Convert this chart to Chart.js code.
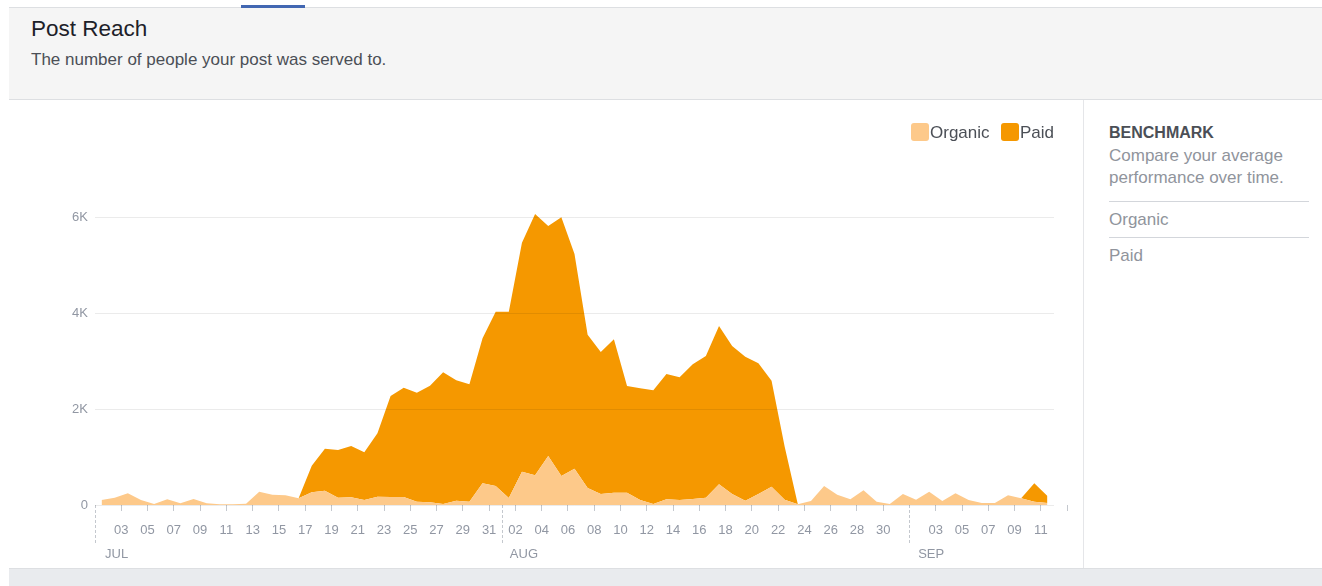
<!DOCTYPE html>
<html lang="en">
<head>
  <meta charset="UTF-8" />
  <title>Post Reach</title>
  <style>
    body {
      margin: 0;
      width: 1322px;
      height: 586px;
      overflow: hidden;
      background: #fff;
      font-family: Helvetica, Arial, "Liberation Sans", sans-serif;
      position: relative;
    }
    .topline { position: absolute; left: 9px; right: 0; top: 7px; height: 1px; background: #dddfe2; }
    .tab { position: absolute; left: 241px; top: 5px; width: 64px; height: 3px; background: #4267b2; }
    .header {
      position: absolute; left: 9px; right: 0; top: 8px; height: 91px;
      background: #f5f5f5; border-bottom: 1px solid #dddfe2;
    }
    .header h1 {
      position: absolute; left: 22px; top: 6px; margin: 0;
      font-size: 22.5px; line-height: 30px; font-weight: normal; color: #1d2129;
    }
    .header p {
      position: absolute; left: 22px; top: 41px; margin: 0;
      font-size: 17px; line-height: 22px; color: #4b4f56;
    }
    .chart-box { position: absolute; left: 9px; top: 100px; width: 1074px; height: 468px; }
    .legend-item {
      position: absolute; top: 123px; height: 18px; line-height: 19px;
      font-size: 17px; color: #4b4f56; white-space: nowrap;
    }
    .legend-item span {
      display: inline-block; width: 18px; height: 18px; border-radius: 3px;
      vertical-align: top; margin-right: 1px;
    }
    .divider { position: absolute; left: 1083px; top: 100px; width: 1px; height: 468px; background: #e5e6e9; }
    .bottom { position: absolute; left: 9px; right: 0; top: 568px; bottom: 0; background: #e9ebee; border-top: 1px solid #dddfe2; }
    .bench { position: absolute; left: 1109px; top: 122px; width: 200px; }
    .bench h4 { margin: 0; font-size: 16px; line-height: 22px; font-weight: bold; color: #4b4f56; }
    .bench .desc { margin: 1px 0 0; font-size: 17px; line-height: 22px; color: #90949c; }
    .bench .row {
      border-top: 1px solid #d3d6db; font-size: 17px; line-height: 35px; height: 35px; color: #90949c;
    }
    .bench .first { margin-top: 12px; }
  </style>
</head>
<body>

<div class="topline"></div>
<div class="tab"></div>
<div class="header">
  <h1>Post Reach</h1>
  <p>The number of people your post was served to.</p>
</div>

<div class="chart-box">
  <canvas id="reachChart"></canvas>
</div>
<div id="legend"></div>

<div class="divider"></div>
<div class="bench">
  <h4>BENCHMARK</h4>
  <p class="desc">Compare your average<br>performance over time.</p>
  <div class="row first">Organic</div>
  <div class="row">Paid</div>
</div>
<div class="bottom"></div>

<script src="https://cdn.jsdelivr.net/npm/chart.js"></script>
<script>
  // daily reach, Jul 01 .. Sep 11
  const organic = [
    105, 150, 244, 105, 20, 118, 35, 125, 35, 14, 14, 28, 279, 216, 202, 139,
    265, 300, 153, 160, 105, 174, 167, 167, 70, 56, 21, 91, 70, 453, 397,
    146, 697, 620, 1024, 606, 759, 355, 230, 258, 258, 105, 21, 118, 105, 125,
    153, 432, 230, 91, 230, 383, 110, 14, 84, 397, 216, 118, 307, 70, 21,
    230, 111, 279, 84, 244, 105, 42, 42, 202, 140, 70, 40
  ];
  const paid = [
    0, 0, 0, 0, 0, 0, 0, 0, 0, 0, 0, 0, 0, 0, 0, 0,
    557, 877, 996, 1073, 995, 1324, 2111, 2285, 2278, 2438, 2752, 2515, 2452, 3030, 3643,
    3894, 4785, 5461, 4807, 5406, 4487, 3205, 2968, 3205, 2229, 2333, 2375, 2620, 2563, 2815,
    2961, 3309, 3093, 3009, 2730, 2215, 1109, 0, 0, 0, 0, 0, 0, 0, 0,
    0, 0, 0, 0, 0, 0, 0, 0, 0, 0, 383, 150
  ];

  const seriesNames = ['Organic', 'Paid'];
  const seriesColors = ['#fdc98a', '#f59800'];

  // x axis: days since Jul 01
  const monthNames = ['JUL', 'AUG', 'SEP'];
  const monthStarts = [0, 31, 62];
  const dayTicks = [2, 4, 6, 8, 10, 12, 14, 16, 18, 20, 22, 24, 26, 28, 30,
    32, 34, 36, 38, 40, 42, 44, 46, 48, 50, 52, 54, 56, 58, 60,
    64, 66, 68, 70, 72, 74];
  const dayTickLabels = ['03', '05', '07', '09', '11', '13', '15', '17', '19', '21', '23', '25', '27', '29', '31',
    '02', '04', '06', '08', '10', '12', '14', '16', '18', '20', '22', '24', '26', '28', '30',
    '03', '05', '07', '09', '11', ''];

  const yTicks = [0, 2000, 4000, 6000];
  const yTickLabels = ['0', '2K', '4K', '6K'];

  const MONTH_LABEL_SHIFT = 1.65;
  const monthLabelAt = monthStarts.map(m => m + MONTH_LABEL_SHIFT);

  const toPoints = arr => arr.map((v, i) => ({ x: i + 0.5, y: v }));

  const fontFamily = 'Helvetica, Arial, "Liberation Sans", sans-serif';
  const tickGray = '#9197a3';

  const ctx = document.getElementById('reachChart').getContext('2d');
  const reachChart = new Chart(ctx, {
    type: 'line',
    data: {
      datasets: [
        {
          label: seriesNames[0],
          data: toPoints(organic),
          backgroundColor: seriesColors[0],
          borderWidth: 0,
          pointRadius: 0,
          fill: 'origin'
        },
        {
          label: seriesNames[1],
          data: toPoints(paid),
          backgroundColor: seriesColors[1],
          borderWidth: 0,
          pointRadius: 0,
          fill: '-1'
        }
      ]
    },
    options: {
      responsive: true,
      maintainAspectRatio: false,
      animation: false,
      layout: { padding: { top: 70, right: 29, left: 0, bottom: 0 } },
      plugins: {
        legend: { display: false },
        tooltip: { enabled: false }
      },
      scales: {
        x: {
          type: 'linear',
          min: 0,
          max: 73,
          afterBuildTicks: scale => {
            scale.ticks = [...monthStarts, ...monthLabelAt, ...dayTicks]
              .sort((a, b) => a - b)
              .map(v => ({ value: v }));
          },
          afterFit: scale => { scale.height = 63; },
          border: { display: false },
          grid: {
            drawOnChartArea: false,
            drawTicks: true,
            tickLength: 40,
            tickWidth: 1,
            tickColor: c => monthLabelAt.includes(c.tick.value) ? 'rgba(0,0,0,0)' : '#c4c8ce',
            tickBorderDash: c => monthStarts.includes(c.tick.value) ? [3, 2] : [6, 80]
          },
          ticks: {
            autoSkip: false,
            maxRotation: 0,
            padding: -27,
            color: tickGray,
            font: { size: 13, family: fontFamily, lineHeight: 24 / 13 },
            callback: value => {
              const m = monthLabelAt.indexOf(value);
              if (m >= 0) return ['', monthNames[m]];
              const d = dayTicks.indexOf(value);
              return d >= 0 ? dayTickLabels[d] : '';
            }
          }
        },
        y: {
          stacked: true,
          min: 0,
          max: 7000,
          afterBuildTicks: scale => {
            scale.ticks = yTicks.map(v => ({ value: v }));
          },
          afterFit: scale => { scale.width = 86; },
          border: { display: false },
          grid: {
            color: 'rgba(0,0,0,0.08)',
            drawTicks: false,
            z: 1
          },
          ticks: {
            padding: 7,
            color: tickGray,
            font: { size: 13, family: fontFamily },
            callback: value => yTickLabels[yTicks.indexOf(value)]
          }
        }
      }
    }
  });

  // html legend built from the chart datasets, right aligned to the plot
  const legendEl = document.getElementById('legend');
  const legendRight = 1054;
  let cursor = legendRight;
  reachChart.data.datasets.slice().reverse().forEach(ds => {
    const item = document.createElement('div');
    item.className = 'legend-item';
    item.innerHTML = '<span style="background:' + ds.backgroundColor + '"></span>' + ds.label;
    legendEl.appendChild(item);
    cursor -= item.offsetWidth;
    item.style.left = cursor + 'px';
    cursor -= 11;
  });
</script>

</body>
</html>
